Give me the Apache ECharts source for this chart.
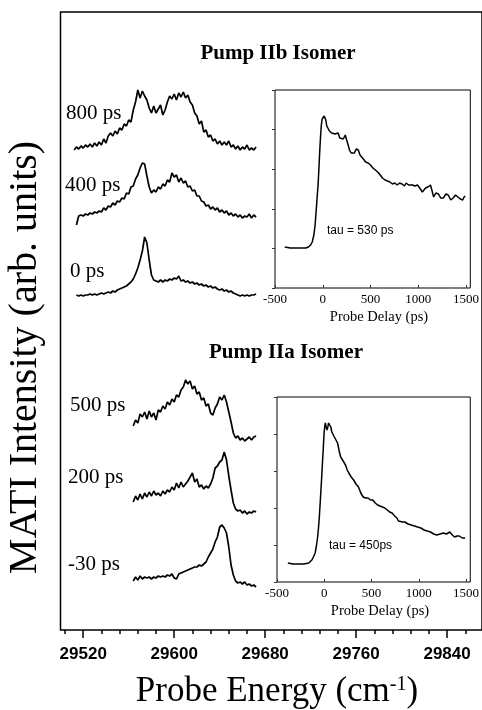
<!DOCTYPE html>
<html><head><meta charset="utf-8">
<script src="https://cdn.jsdelivr.net/npm/echarts@6/dist/echarts.min.js"></script>
<style>html,body{margin:0;padding:0;background:#fff}#c{width:482px;height:710px}</style>
</head><body><div id="c"></div>
<script>
// ---------- DATA ----------
const majorTicks = [29520, 29600, 29680, 29760, 29840];
const minorTicks = [29504,29536,29552,29568,29584,29616,29632,29648,29664,29696,29712,29728,29744,29776,29792,29808,29824,29856];
const insetTicks = [-500, 0, 500, 1000, 1500];

const energyUpper = [29512,29514,29516,29518,29520,29522,29524,29526,29528,29530,29532,29534,29536,29538,29540,29542,29544,29546,29548,29550,29552,29554,29556,29558,29560,29562,29564,29566,29568,29570,29572,29574,29576,29578,29580,29582,29584,29586,29588,29590,29592,29594,29596,29598,29600,29602,29604,29606,29608,29610,29612,29614,29616,29618,29620,29622,29624,29626,29628,29630,29632,29634,29636,29638,29640,29642,29644,29646,29648,29650,29652,29654,29656,29658,29660,29662,29664,29666,29668,29670,29672];
const ps800 = [10,13,11,14,12,15,13,16,13,17,14,18,15,21,17,24,27,24,29,26,32,30,36,34,40,38,50,58,70,62,69,64,60,52,47,54,47,51,55,45,50,58,64,61,66,60,67,63,68,62,65,58,55,47,44,36,39,28,30,23,25,19,21,16,19,15,18,15,19,13,15,11,14,10,13,11,15,10,12,10,13];
const ps400 = [null,5,14,15,14,16,15,17,16,18,17,19,18,22,20,24,23,27,25,29,28,32,31,37,36,43,44,51,55,62,67,66,54,43,37,40,38,43,41,46,44,50,48,57,53,55,48,52,47,49,43,44,39,40,34,34,29,28,24,25,21,23,20,22,18,20,17,19,15,17,14,16,13,15,12,14,13,16,12,15,13];
const ps0 = [null,10,9,10,9,10,10,11,10,11,10,11,12,11,12,13,12,14,13,15,16,17,18,19,21,23,26,31,37,45,54,68,62,45,30,25,24,23,25,23,25,24,26,25,27,26,29,24,25,23,24,22,23,21,22,20,21,19,20,18,19,17,18,16,15,16,14,15,13,14,12,11,10,9,10,9,10,9,10,10,11];

const energyLower = [29564,29566,29568,29570,29572,29574,29576,29578,29580,29582,29584,29586,29588,29590,29592,29594,29596,29598,29600,29602,29604,29606,29608,29610,29612,29614,29616,29618,29620,29622,29624,29626,29628,29630,29632,29634,29636,29638,29640,29642,29644,29646,29648,29650,29652,29654,29656,29658,29660,29662,29664,29666,29668,29670,29672];
const ps500 = [24,30,27,36,33,38,31,39,33,37,30,40,38,44,41,48,45,51,48,55,53,60,63,70,66,69,61,64,56,58,50,52,44,46,37,35,42,46,53,50,55,48,38,28,17,12,14,10,12,9,11,13,10,13,14];
const ps200 = [18,24,20,26,21,27,23,28,24,29,25,27,24,29,26,30,28,33,30,37,32,38,33,36,39,43,47,38,41,33,35,31,34,32,36,42,52,54,58,60,68,60,44,30,17,11,9,10,7,9,6,8,7,9,8];
const psM30 = [14,18,15,19,16,18,17,18,16,18,17,19,18,19,18,20,19,21,17,16,21,22,23,24,25,26,27,28,28,30,29,31,33,38,42,46,53,58,68,70,67,62,48,30,20,14,12,13,11,13,10,11,9,10,8];

const delayIIb = [-398,-340,-279,-220,-178,-150,-127,-110,-93,-80,-70,-60,-49,-40,-32,-24,-15,-6,2,15,32,42,52,70,80,93,110,128,145,161,178,195,215,236,250,263,280,297,315,331,350,372,390,405,425,449,475,500,525,551,575,602,625,653,678,703,730,754,780,805,830,855,873,900,920,941,965,992,1015,1043,1060,1077,1100,1128,1145,1161,1185,1212,1235,1263,1290,1314,1340,1365,1390,1416,1440,1466,1480,1491];
const signalIIb = [41,40,40,40,40,41,43,46,53,63,76,89,103,120,136,150,163,169,171,172,168,162,160,157,159,155,157,154,152,155,150,152,149,153,148,144,138,135,137,135,139,138,133,131,129,126,125,123,120,118,116,113,110,108,107,106,104,105,103,105,104,102,105,103,101,103,102,103,100,96,98,100,101,103,97,91,95,94,90,90,94,93,88,90,93,91,89,88,91,92];

const delayIIa = [-385,-330,-266,-215,-164,-145,-131,-115,-96,-83,-70,-60,-52,-43,-35,-27,-19,-10,-2,6,12,20,29,38,46,53,60,70,80,93,107,124,141,158,174,200,225,243,260,285,311,336,362,387,412,437,463,490,514,540,565,590,616,640,667,692,718,745,769,785,802,828,853,887,921,955,988,1022,1056,1090,1125,1158,1192,1226,1260,1294,1328,1355,1379,1405,1430,1460,1475,1491];
const signalIIa = [19,18,18,18,19,20,22,25,29,36,45,55,65,79,92,105,119,134,149,156,159,155,152,155,159,161,160,155,150,148,145,142,139,131,125,121,117,112,109,105,102,98,95,89,85,84,84,82,82,79,77,76,75,74,72,70,69,66,64,61,59,60,60,58,57,56,55,54,52,51,50,48,47,48,49,48,50,47,45,46,46,44,45,44];

const spectrumLabels = ['800 ps', '400 ps', '0 ps', '500 ps', '200 ps', '-30 ps'];
const panelTitles = ['Pump IIb Isomer', 'Pump IIa Isomer'];
const tauLabels = ['tau = 530 ps', 'tau = 450ps'];

// ---------- BUILD ----------
const serif = '"Liberation Serif", "Times New Roman", serif';
const sans = '"Liberation Sans", Arial, sans-serif';
const pairs = (xs, ys) => xs.map((x, i) => [x, ys[i]]).filter(p => p[1] !== null);
const plain = v => String(v);

const E_MIN = 29500, E_MAX = 29870.7;
const MAIN_L = 60.5, MAIN_W = 424;
const specTops = [80, 150, 225, 370, 440, 515];

const grid = [{left: MAIN_L, top: 12, width: MAIN_W, bottom: 80, show: true, borderColor: '#000', borderWidth: 1.5, backgroundColor: 'transparent'}];
specTops.forEach(t => grid.push({left: MAIN_L, width: MAIN_W, top: t, height: 80}));
grid.push({left: 275, top: 90, width: 201, height: 198, show: true, borderColor: '#000', borderWidth: 1});
grid.push({left: 277, top: 397, width: 201, height: 185, show: true, borderColor: '#000', borderWidth: 1});

const xAxis = [
  {type: 'value', gridIndex: 0, position: 'bottom', min: E_MIN, max: E_MAX, axisLine: {show: false, onZero: false}, splitLine: {show: false},
   axisTick: {show: true, customValues: majorTicks, length: 8, lineStyle: {color: '#000', width: 1.5}},
   axisLabel: {customValues: majorTicks, formatter: plain, margin: 16, color: '#000', fontFamily: sans, fontWeight: 'bold', fontSize: 17}},
  {type: 'value', gridIndex: 0, position: 'bottom', min: E_MIN, max: E_MAX, axisLine: {show: false, onZero: false}, splitLine: {show: false},
   axisTick: {show: true, customValues: minorTicks, length: 4, lineStyle: {color: '#000', width: 1.5}},
   axisLabel: {show: false}}
];
specTops.forEach((t, i) => xAxis.push({type: 'value', gridIndex: i + 1, min: E_MIN, max: E_MAX, show: false}));
[7, 8].forEach(g => xAxis.push({type: 'value', gridIndex: g, position: 'bottom', min: -500, max: 1545, interval: 500,
  axisLine: {show: false, onZero: false}, splitLine: {show: false},
  axisTick: {show: true, inside: true, length: 3, lineStyle: {color: '#333'}},
  axisLabel: {customValues: insetTicks, formatter: plain, margin: 5, color: '#000', fontFamily: serif, fontSize: 13}}));

const yAxis = [{type: 'value', gridIndex: 0, min: 0, max: 1, show: false}];
specTops.forEach((t, i) => yAxis.push({type: 'value', gridIndex: i + 1, min: 0, max: 80, show: false}));
yAxis.push({type: 'value', gridIndex: 7, position: 'left', min: 0, max: 198, interval: 39.6, axisLine: {show: false, onZero: false}, splitLine: {show: false},
  axisTick: {show: true, length: 3, lineStyle: {color: '#333'}}, axisLabel: {show: false}});
yAxis.push({type: 'value', gridIndex: 8, position: 'left', min: 0, max: 185, interval: 37, axisLine: {show: false, onZero: false}, splitLine: {show: false},
  axisTick: {show: true, length: 3, lineStyle: {color: '#333'}}, axisLabel: {show: false}});

const lineS = (xi, yi, data, w) => ({type: 'line', xAxisIndex: xi, yAxisIndex: yi, data: data, showSymbol: false,
  symbol: 'none', lineStyle: {color: '#000', width: w}, silent: true, animation: false});

const series = [
  lineS(2, 1, pairs(energyUpper, ps800), 1.7),
  lineS(3, 2, pairs(energyUpper, ps400), 1.7),
  lineS(4, 3, pairs(energyUpper, ps0), 1.7),
  lineS(5, 4, pairs(energyLower, ps500), 1.7),
  lineS(6, 5, pairs(energyLower, ps200), 1.7),
  lineS(7, 6, pairs(energyLower, psM30), 1.7),
  lineS(8, 7, pairs(delayIIb, signalIIb), 1.5),
  lineS(9, 8, pairs(delayIIa, signalIIa), 1.5)
];

const txt = (text, x, y, font, align, extra) => Object.assign({type: 'text', x: x, y: y, silent: true,
  style: {text: text, font: font, fill: '#000', textAlign: align || 'left', textVerticalAlign: 'middle'}}, extra || {});

const labelPos = [[66, 113], [65, 185], [70, 271], [70, 405], [68, 477], [68, 564]];
const graphic = [
  txt(panelTitles[0], 278, 54, 'bold 21px ' + serif, 'center'),
  txt(panelTitles[1], 286, 353, 'bold 21px ' + serif, 'center'),
  txt(tauLabels[0], 327, 231, '12px ' + sans),
  txt(tauLabels[1], 329, 546, '12px ' + sans),
  txt('Probe Delay (ps)', 379, 317, '14.5px ' + serif, 'center'),
  txt('Probe Delay (ps)', 380, 611, '14.5px ' + serif, 'center'),
  txt('MATI Intensity (arb. units)', 25, 357.5, '40px ' + serif, 'center', {rotation: Math.PI / 2}),
  {type: 'text', x: 277, y: 692, silent: true, style: {
    text: '{a|Probe Energy (cm}{s|-1}{a|)}', textAlign: 'center', textVerticalAlign: 'middle', fill: '#000',
    rich: {a: {fontFamily: serif, fontSize: 35, fill: '#000'}, s: {fontFamily: serif, fontSize: 20, verticalAlign: 'top', fill: '#000'}}}}
];
spectrumLabels.forEach((s, i) => graphic.push(txt(s, labelPos[i][0], labelPos[i][1], '21px ' + serif)));

const chart = echarts.init(document.getElementById('c'), null, {renderer: 'canvas'});
chart.setOption({animation: false, backgroundColor: '#fff', grid, xAxis, yAxis, series, graphic});
</script></body></html>
